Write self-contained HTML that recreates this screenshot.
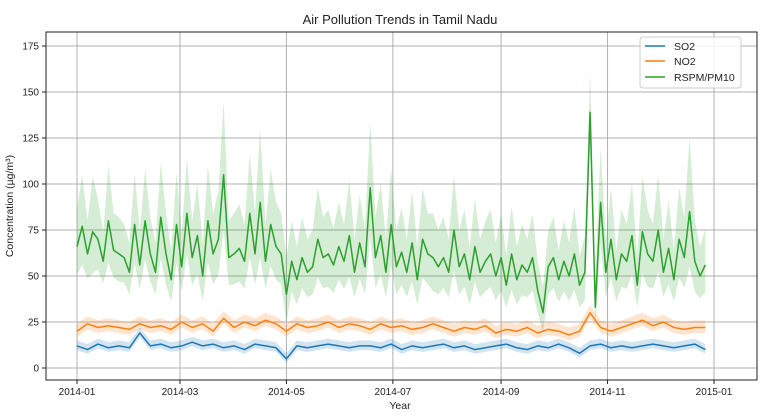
<!DOCTYPE html>
<html><head><meta charset="utf-8"><style>
body{margin:0;background:#fff;width:775px;height:413px;overflow:hidden;font-family:"Liberation Sans",sans-serif}
text{font-family:"Liberation Sans","DejaVu Sans",sans-serif}
</style></head><body>
<svg id="chart" width="775" height="413" xmlns="http://www.w3.org/2000/svg">
<rect width="775" height="413" fill="#fff"/>
<g id="grid"></g>
<g id="bands"></g>
<g id="lines"></g>
<rect x="46" y="32" width="711" height="348" fill="none" stroke="#222" stroke-width="1"/>
<g id="ticks"></g>
<text x="400" y="24" text-anchor="middle" font-size="13" fill="#222">Air Pollution Trends in Tamil Nadu</text>
<text x="400" y="409" text-anchor="middle" font-size="10.5" fill="#222">Year</text>
<text transform="translate(13,206) rotate(-90)" text-anchor="middle" font-size="10.5" fill="#222">Concentration (µg/m³)</text>
<g>
<rect x="640" y="37" width="101" height="51" rx="3" fill="#fff" fill-opacity="0.85" stroke="#ccc"/>
<line x1="645" y1="46" x2="665" y2="46" stroke="#1f77b4" stroke-width="1.5"/>
<text x="674" y="50" font-size="10.5" fill="#222">SO2</text>
<line x1="645" y1="61" x2="665" y2="61" stroke="#ff7f0e" stroke-width="1.5"/>
<text x="674" y="65" font-size="10.5" fill="#222">NO2</text>
<line x1="645" y1="77" x2="665" y2="77" stroke="#2ca02c" stroke-width="1.5"/>
<text x="674" y="81" font-size="10.5" fill="#222">RSPM/PM10</text>
</g>
</svg>
<script>
const rspm=[66,77,62,74,70,58,80,64,62,60,52,78,56,80,62,52,82,62,48,78,55,84,60,72,50,80,62,70,105,60,62,65,58,84,62,90,58,78,66,62,40,58,48,60,52,55,70,60,62,56,66,58,72,52,68,55,98,60,72,52,78,55,63,52,68,48,70,62,60,55,60,52,75,55,62,48,66,52,58,62,50,60,45,62,48,56,52,60,42,30,55,60,48,58,50,62,45,52,139,33,90,52,70,48,62,58,72,45,74,62,58,75,52,65,48,70,60,85,58,50,56];
const rspmCi=[20,28,18,30,22,16,30,20,20,18,16,28,18,28,20,16,30,22,16,28,18,30,20,28,18,30,22,26,40,20,22,24,20,32,22,40,20,30,24,22,20,22,18,22,18,20,28,22,24,20,24,20,30,18,26,20,36,22,28,18,30,20,24,18,28,18,28,22,24,20,22,18,30,20,24,18,26,18,22,24,18,24,16,26,18,22,18,24,16,14,20,22,16,22,18,26,16,20,22,14,30,18,28,16,24,20,28,16,30,24,20,30,18,26,16,28,22,40,22,16,20];
const so2=[12,10,13,11,12,11,19,12,13,11,12,14,12,13,11,12,10,13,12,11,5,12,11,12,13,12,11,12,12,11,13,10,12,11,12,13,11,12,10,11,12,13,11,10,12,11,13,11,8,12,13,11,12,11,12,13,12,11,12,13,10];
const no2=[20,24,22,23,22,21,24,22,23,21,25,22,24,20,27,22,25,23,26,24,20,24,22,23,25,22,24,23,21,24,22,23,21,22,24,22,20,22,21,23,19,21,20,22,19,21,20,18,20,30,22,20,22,24,26,23,25,22,21,22,22];
const yTicks=[0,25,50,75,100,125,150,175];
const xTickLabels=["2014-01","2014-03","2014-05","2014-07","2014-09","2014-11","2015-01"];
const xTickDays=[0,59,120,181,243,304,365];
const NS="http://www.w3.org/2000/svg";
const X=d=>77+d*(637/365);
const Y=v=>368-v*(322/175);
function mk(tag,attrs,parent){const e=document.createElementNS(NS,tag);for(const k in attrs)e.setAttribute(k,attrs[k]);parent.appendChild(e);return e;}
const grid=document.getElementById('grid'),ticks=document.getElementById('ticks'),bands=document.getElementById('bands'),lines=document.getElementById('lines');
yTicks.forEach(v=>{
 const g=mk('line',{x1:46,x2:757,y1:Y(v),y2:Y(v),stroke:'#b0b0b0','stroke-width':1},grid);
 
 
 mk('line',{x1:42,x2:46,y1:Y(v),y2:Y(v),stroke:'#222'},ticks);
 const t=mk('text',{x:39,y:Y(v)+3.5,'text-anchor':'end','font-size':10,fill:'#222'},ticks);t.textContent=v;
 
 
});
xTickDays.forEach((d,i)=>{
 const g=mk('line',{x1:X(d),x2:X(d),y1:32,y2:380,stroke:'#b0b0b0','stroke-width':1},grid);
 
 
 mk('line',{x1:X(d),x2:X(d),y1:380,y2:384,stroke:'#222'},ticks);
 const t=mk('text',{x:X(d),y:395,'text-anchor':'middle','font-size':10,fill:'#222'},ticks);t.textContent=xTickLabels[i];
 
 
});
function series(vals,ci,step,color,name){
 let up='',lo='',ln='';
 vals.forEach((v,i)=>{const x=X(i*step).toFixed(1);const c=Array.isArray(ci)?ci[i]:ci;
  up+=(i?'L':'M')+x+','+Y(v+c).toFixed(1);ln+=(i?'L':'M')+x+','+Y(v).toFixed(1);});
 for(let i=vals.length-1;i>=0;i--){const c=Array.isArray(ci)?ci[i]:ci;lo+='L'+X(i*step).toFixed(1)+','+Y(Math.max(0,vals[i]-c*0.75)).toFixed(1);}
 const b=mk('path',{d:up+lo+'Z',fill:color,'fill-opacity':0.2,stroke:'none'},bands);
 
 
 const l=mk('path',{d:ln,fill:'none',stroke:color,'stroke-width':1.5,'stroke-linejoin':'round'},lines);
 
 
}
series(rspm,rspmCi,3,'#2ca02c','rspm');
series(no2,4,6,'#ff7f0e','no2');
series(so2,3,6,'#1f77b4','so2');
</script>
</body></html>
